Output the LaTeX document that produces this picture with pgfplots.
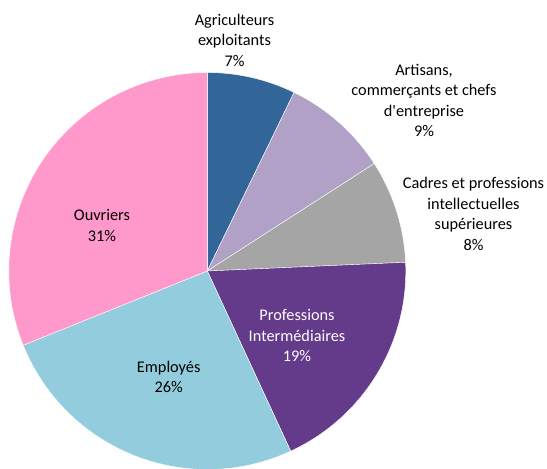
\documentclass[border=0pt]{standalone}
\usepackage{pgfplots}
\usepackage{pgfplotstable}
\pgfplotsset{compat=1.18}
\usepackage{fontspec}
\setmainfont{Carlito}
\definecolor{c0}{RGB}{50,102,153}
\definecolor{c1}{RGB}{177,161,199}
\definecolor{c2}{RGB}{165,165,165}
\definecolor{c3}{RGB}{100,58,138}
\definecolor{c4}{RGB}{147,205,221}
\definecolor{c5}{RGB}{255,153,204}
\pgfplotstableread{
idx value
0 7.2
1 8.7
2 8.4
3 18.8
4 25.8
5 31.1
}\piedata
\begin{document}
\begin{tikzpicture}
\gdef\cum{0}
\foreach \i in {0,...,5}{
  \pgfplotstablegetelem{\i}{value}\of\piedata
  \pgfmathsetmacro{\a}{90-3.6*\cum}
  \pgfmathsetmacro{\newcum}{\cum+\pgfplotsretval}
  \pgfmathsetmacro{\b}{90-3.6*\newcum}
  \expandafter\xdef\csname sa\i\endcsname{\a}
  \expandafter\xdef\csname sb\i\endcsname{\b}
  \xdef\cum{\newcum}
}
\begin{axis}[
  width=547pt, height=469pt, scale only axis,
  xmin=0, xmax=547, ymin=0, ymax=469,
  hide axis, clip=false,
]
\path (axis cs:0,0) rectangle (axis cs:547,469);
\pgfplotsinvokeforeach{0,...,5}{
  \fill[overlay, c#1, draw=white, line width=0.4pt, line join=round]
    (axis cs:207.3,198) -- ([shift={(\csname sa#1\endcsname:198.5pt)}]axis cs:207.3,198)
    arc[start angle=\csname sa#1\endcsname, end angle=\csname sb#1\endcsname, radius=198.5pt] -- cycle;
}
\tikzset{lab/.style={overlay, align=center, inner sep=0pt, font=\fontsize{16.3}{20.5}\selectfont}}
\node[lab] at (axis cs:234.5,429) {Agriculteurs\\exploitants\\7\%};
\node[lab] at (axis cs:424,368.5) {Artisans,\\commerçants et chefs\\d\textquotesingle entreprise\\9\%};
\node[lab] at (axis cs:473.5,255.3) {Cadres et professions\\intellectuelles\\supérieures\\8\%};
\node[lab, text=white] at (axis cs:297,133.3) {Professions\\Intermédiaires\\19\%};
\node[lab] at (axis cs:168.7,92.3) {Employés\\26\%};
\node[lab] at (axis cs:102,243.5) {Ouvriers\\31\%};
\end{axis}
\end{tikzpicture}
\end{document}
